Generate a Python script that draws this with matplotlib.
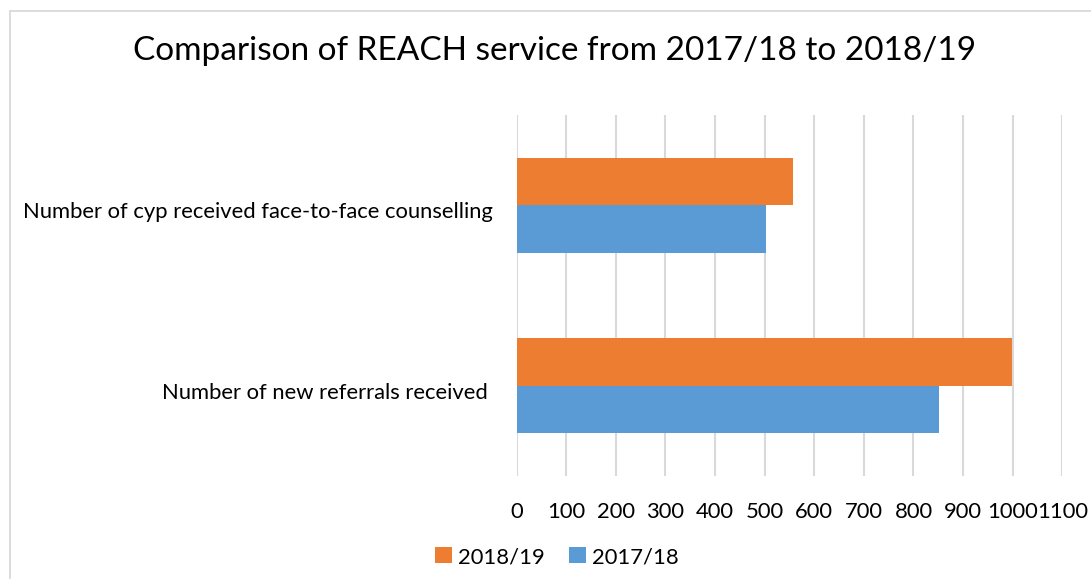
import matplotlib
matplotlib.use("Agg")
import matplotlib.pyplot as plt
import matplotlib.transforms as mtransforms
from matplotlib.patches import Rectangle
import numpy as np

categories = ["Number of new referrals received ", "Number of cyp received face-to-face counselling"]
series_names = ["2017/18", "2018/19"]
values_1718 = [852, 502]
values_1819 = [999, 557]
colors = {"2017/18": "#5B9BD5", "2018/19": "#ED7D31"}
xticks = list(range(0, 1101, 100))

plt.rcParams['font.family'] = ['Lato', 'DejaVu Sans']

W, H = 1091, 579
fig = plt.figure(figsize=(W / 100, H / 100), dpi=100)
ax = fig.add_axes([516.5 / W, 1 - 476 / H, (1062.3 - 516.5) / W, (476 - 115) / H])

y = np.arange(len(categories))
bh = 0.263
ax.barh(y - bh / 2, values_1718, height=bh, color=colors["2017/18"], label="2017/18", zorder=3)
ax.barh(y + bh / 2, values_1819, height=bh, color=colors["2018/19"], label="2018/19", zorder=3)

fs = 15.8
ax.set_xlim(0, 1100)
ax.set_ylim(-0.5, len(categories) - 0.5)
ax.set_xticks(xticks)
ax.set_xticklabels([str(t) for t in xticks], fontsize=fs)
ax.set_yticks(y)
ax.set_yticklabels(categories, fontsize=fs)
ax.tick_params(axis='x', length=0, pad=19)
ax.tick_params(axis='y', length=0, pad=17)
offset = mtransforms.ScaledTranslation(0, -5 / 100, fig.dpi_scale_trans)
for lbl in ax.get_yticklabels():
    lbl.set_transform(lbl.get_transform() + offset)
ax.xaxis.grid(True, color="#D9D9D9", linewidth=1.5, zorder=0)
ax.set_axisbelow(True)
for s in ax.spines.values():
    s.set_visible(False)

fig.text(555 / W, 1 - 51 / H, "Comparison of REACH service from 2017/18 to 2018/19",
         ha='center', va='center', fontsize=24, color='#000000')

handles, labels = ax.get_legend_handles_labels()
order = [1, 0]
fig.legend([handles[i] for i in order], [labels[i] for i in order],
           loc='center', bbox_to_anchor=(557 / W, 1 - 557 / H), ncol=2, frameon=False,
           fontsize=fs, handlelength=0.75, handleheight=0.75, handletextpad=0.3,
           columnspacing=1.1)

fig.patches.append(Rectangle((10 / W, -0.05), 1.2, 1 - 11 / H + 0.05, transform=fig.transFigure,
                             fill=False, edgecolor="#D9D9D9", linewidth=1.3))

fig.savefig("out.png", dpi=100, facecolor='white')
